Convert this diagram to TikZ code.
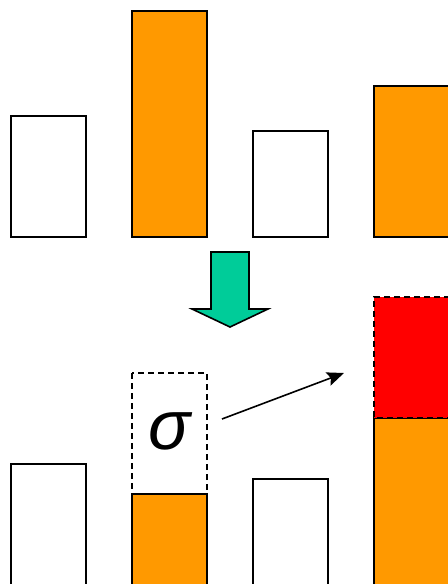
\documentclass[tikz,border=0pt]{standalone}
\usepackage{fontspec}
\setsansfont{Liberation Sans}
\usetikzlibrary{arrows.meta}
\definecolor{barorange}{HTML}{FF9900}
\definecolor{arrowgreen}{HTML}{00CC99}
\begin{document}
\begin{tikzpicture}[x=1bp,y=-1bp,
  bar/.style={draw=black,line width=1.6bp},
  dashbox/.style={draw=black,line width=1.6bp,dash pattern=on 6bp off 4bp},
  pointer/.style={line width=1.6bp,-{Stealth[length=17bp,width=14bp,inset=3bp]}}]
\useasboundingbox (0,0) rectangle (448,584);
\clip (0,0) rectangle (448,584);
% top row
\draw[bar,fill=white] (11,116) rectangle (86,237);
\draw[bar,fill=barorange] (132,11) rectangle (207,237);
\draw[bar,fill=white] (253,131) rectangle (328,237);
\draw[bar,fill=barorange] (374,86) rectangle (460,237);
% block arrow
\draw[line width=1.6bp,fill=arrowgreen,line join=miter]
  (211,252) -- (249,252) -- (249,309) -- (268,309) -- (230,327) -- (192,309) -- (211,309) -- cycle;
% bottom row
\draw[bar,fill=white] (11,464) rectangle (86,600);
\draw[bar,fill=barorange] (132,494) rectangle (207,600);
\draw[dashbox] (132,373) rectangle (207,494);
\draw[bar,fill=white] (253,479) rectangle (328,600);
\draw[bar,fill=barorange] (374,418) rectangle (460,600);
\fill[red] (374,297) rectangle (460,418);
\draw[dashbox] (460,297) -- (374,297) -- (374,418) -- (460,418);
\node[font=\sffamily\itshape\fontsize{70}{70}\selectfont,inner sep=0pt] (sig) at (170,431) {σ};
\coordinate (a1) at (222,419);
\coordinate (a2) at (344,373);
\draw[pointer] (a1) -- (a2);
\end{tikzpicture}
\end{document}
